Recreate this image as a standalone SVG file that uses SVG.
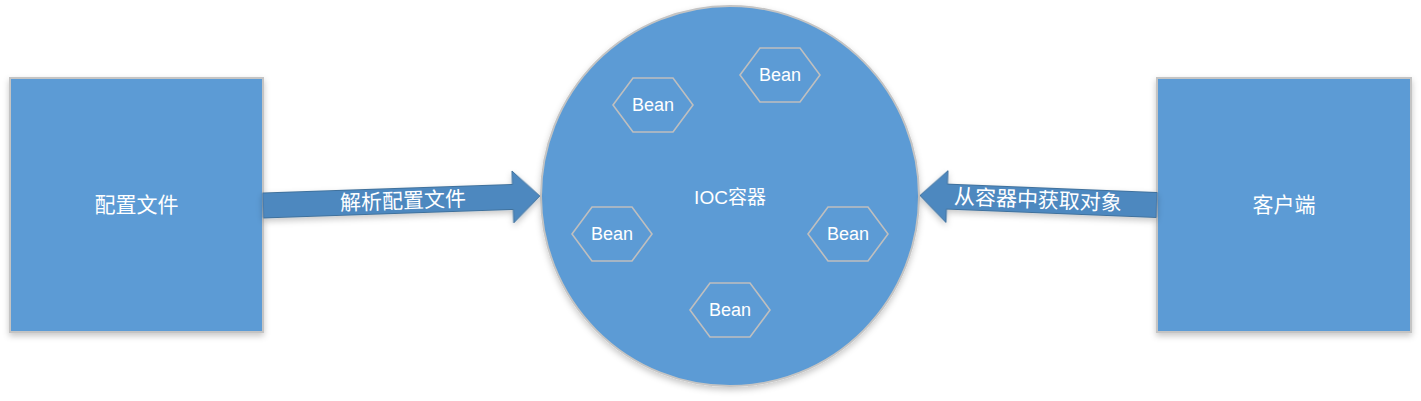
<svg xmlns="http://www.w3.org/2000/svg" width="1421" height="401" viewBox="0 0 1421 401">
<style>
  .box { fill: #5b9bd5; stroke: #c4c4c4; stroke-width: 2; }
  .hex { fill: none; stroke: #bfbfbf; stroke-width: 1.6; }
  .arrow { fill: #4e88bf; stroke: #41719c; stroke-width: 1; }
  .t { fill: #ffffff; font-family: "Liberation Sans", "Noto Sans CJK SC", sans-serif; text-anchor: middle; }
  .big { font-size: 21px; }
  .bean { font-size: 18px; }
</style>
<defs>
  <filter id="sh" x="-10%" y="-10%" width="120%" height="125%">
    <feDropShadow dx="0" dy="3" stdDeviation="3" flood-color="#000000" flood-opacity="0.22"/>
  </filter>
</defs>
<rect width="1421" height="401" fill="#ffffff"/>

<g id="config">
  <rect class="box" x="10" y="78" width="253" height="254" filter="url(#sh)"/>
  <text class="t big" x="136.5" y="212">配置文件</text>
</g>

<g id="client">
  <rect class="box" x="1157" y="78" width="254" height="254" filter="url(#sh)"/>
  <text class="t big" x="1284" y="212">客户端</text>
</g>

<g id="ioc">
  <ellipse class="box" cx="730" cy="196" rx="189" ry="190" filter="url(#sh)"/>
  <text class="t" font-size="19" x="730" y="204">IOC容器</text>
</g>

<g id="bean1">
  <polygon class="hex" points="613,105 633,78 673,78 693,105 673,132 633,132"/>
  <text class="t bean" x="653" y="111">Bean</text>
</g>
<g id="bean2">
  <polygon class="hex" points="740,75 760,48 800,48 820,75 800,102 760,102"/>
  <text class="t bean" x="780" y="81">Bean</text>
</g>
<g id="bean3">
  <polygon class="hex" points="572,234 592,207 632,207 652,234 632,261 592,261"/>
  <text class="t bean" x="612" y="240">Bean</text>
</g>
<g id="bean4">
  <polygon class="hex" points="808,234 828,207 868,207 888,234 868,261 828,261"/>
  <text class="t bean" x="848" y="240">Bean</text>
</g>
<g id="bean5">
  <polygon class="hex" points="690,310 710,283 750,283 770,310 750,337 710,337"/>
  <text class="t bean" x="730" y="316">Bean</text>
</g>

<g id="connectors">
  <g transform="translate(263,205.5) rotate(-1.96)">
    <path class="arrow" filter="url(#sh)" d="M0,-12.5 L250,-12.5 L250,-26 L277,0 L250,26 L250,12.5 L0,12.5 Z"/>
    <text class="t big" x="140" y="7.5">解析配置文件</text>
  </g>
  <g transform="translate(920,195.5) rotate(2.3)">
    <path class="arrow" filter="url(#sh)" d="M0,0 L27,-26 L27,-12.5 L237,-12.5 L237,12.5 L27,12.5 L27,26 Z"/>
    <text class="t big" x="118" y="7">从容器中获取对象</text>
  </g>
</g>
</svg>
